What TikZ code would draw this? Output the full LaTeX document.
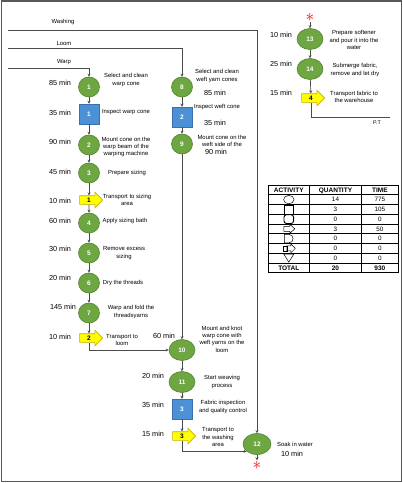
\documentclass[tikz,border=0pt]{standalone}
\usepackage{fontspec}
\setmainfont{Liberation Sans}
\usetikzlibrary{arrows.meta,shapes.geometric,shapes.arrows}
\definecolor{opgreen}{RGB}{110,166,66}
\definecolor{opedge}{RGB}{82,130,50}
\definecolor{inblue}{RGB}{76,145,214}
\definecolor{inedge}{RGB}{58,112,172}
\definecolor{trfill}{RGB}{255,255,0}
\definecolor{tredge}{RGB}{200,170,0}
\definecolor{linegray}{RGB}{75,75,75}

\begin{document}
\begin{tikzpicture}[
    x=1pt, y=-1pt,
    oper/.style={ellipse, draw=opedge, fill=opgreen, line width=0.6pt, minimum width=21pt, minimum height=20pt, inner sep=0pt, text=white, font=\fontsize{6.5}{7}\selectfont\bfseries},
    bigoper/.style={oper, minimum width=26pt, minimum height=21pt},
    insp/.style={rectangle, draw=inedge, fill=inblue, line width=0.5pt, minimum width=20pt, minimum height=20pt, inner sep=0pt, text=white, font=\fontsize{6.5}{7}\selectfont\bfseries},
    transp/.style={single arrow, draw=tredge, fill=trfill, line width=0.6pt, minimum height=23pt, single arrow head extend=3.5pt, inner sep=1pt, text height=5pt, text depth=1pt, font=\fontsize{6.5}{7}\selectfont\bfseries},
    desc/.style={align=center, inner sep=0pt, font=\fontsize{5.9}{7.3}\selectfont},
    time/.style={inner sep=0pt, font=\fontsize{7.3}{8}\selectfont},
    cell/.style={inner sep=0pt, text height=4.6pt, text depth=0pt, font=\fontsize{6.3}{7}\selectfont},
    head/.style={cell, font=\fontsize{6.5}{7}\selectfont\bfseries},
    sym/.style={draw, line width=0.5pt},
    flow/.style={draw=linegray, line width=0.7pt, -{Stealth[length=3pt,width=3pt]}},
    plain/.style={draw=linegray, line width=0.7pt},
    redstar/.style={inner sep=0.5pt, text=red, font=\fontsize{16}{16}\selectfont},
]
    \useasboundingbox (0,0) rectangle (403,483);
    \draw[black!65, line width=1.5pt] (1.5,0.8) rectangle (401.5,481.5);

    \coordinate (ws) at (8,30);
    \coordinate (lm) at (8,48);
    \coordinate (wp) at (8,68);
    \coordinate (pe) at (390,117);
    \node[desc] (lws) at (63,22) {Washing};
    \node[desc] (llm) at (64,43) {Loom};
    \node[desc] (lwp) at (64,62) {Warp};

    \node[oper] (o1) at (89,87) {1};
    \node[insp] (q1) at (89,114) {1};
    \node[oper] (o2) at (89,145) {2};
    \node[oper] (o3) at (89,173) {3};
    \node[transp] (a1) at (89,200) {1};
    \node[oper] (o4) at (89,223) {4};
    \node[oper] (o5) at (89,253) {5};
    \node[oper] (o6) at (89,283) {6};
    \node[oper] (o7) at (89,313) {7};
    \node[transp] (a2) at (89,338) {2};

    \node[oper] (o8) at (182,87) {8};
    \node[insp] (q2) at (182,117) {2};
    \node[oper] (o9) at (182,144) {9};
    \node[bigoper] (o10) at (182,350) {10};
    \node[bigoper] (o11) at (182,382) {11};
    \node[insp] (q3) at (182,409) {3};
    \node[transp] (a3) at (182,436) {3};
    \node[bigoper, minimum width=28pt] (o12) at (257,444) {12};

    \node[bigoper] (o13) at (310,39) {13};
    \node[bigoper] (o14) at (310,69) {14};
    \node[transp] (a4) at (311,98) {4};

    \node[redstar] (s1) at (310,17) {$\ast$};
    \node[redstar] (s2) at (257,465) {$\ast$};

    \node[time] (t1) at (60,83) {85 min};
    \node[time] (tq1) at (60,113) {35 min};
    \node[time] (t2) at (60,142) {90 min};
    \node[time] (t3) at (60,172) {45 min};
    \node[time] (ta1) at (60,201) {10 min};
    \node[time] (t4) at (60,221) {60 min};
    \node[time] (t5) at (60,249) {30 min};
    \node[time] (t6) at (60,278) {20 min};
    \node[time] (t7) at (63,307) {145 min};
    \node[time] (ta2) at (60,337) {10 min};
    \node[time] (t8) at (215,93) {85 min};
    \node[time] (tq2) at (215,123) {35 min};
    \node[time] (t9) at (216,152) {90 min};
    \node[time] (t10) at (164,336) {60 min};
    \node[time] (t11) at (153,376) {20 min};
    \node[time] (tq3) at (153,405) {35 min};
    \node[time] (ta3) at (153,434) {15 min};
    \node[time] (t12) at (292,454) {10 min};
    \node[time] (t13) at (281,35) {10 min};
    \node[time] (t14) at (281,64) {25 min};
    \node[time] (ta4) at (281,93) {15 min};

    \node[desc] (d1) at (126,80) {Select and clean\\warp cone};
    \node[desc] (dq1) at (126,112) {Inspect warp cone};
    \node[desc] (d2) at (126,147) {Mount cone on the\\warp beam of the\\warping machine};
    \node[desc] (d3) at (127,173) {Prepare sizing};
    \node[desc] (da1) at (127,200) {Transport to sizing\\area};
    \node[desc] (d4) at (125,221) {Apply sizing bath};
    \node[desc] (d5) at (124,253) {Remove excess\\sizing};
    \node[desc] (d6) at (123,283) {Dry the threads};
    \node[desc] (d7) at (131,312) {Warp and fold the\\threadsyarns};
    \node[desc] (da2) at (122,340) {Transport to\\loom};
    \node[desc] (d8) at (217,76) {Select and clean\\weft yarn cones};
    \node[desc] (dq2) at (217,107) {Inspect weft cone};
    \node[desc] (d9) at (222,141) {Mount cone on the\\weft side of the};
    \node[desc] (d10) at (222,339) {Mount and knot\\warp cone with\\weft yarns on the\\loom};
    \node[desc] (d11) at (222,382) {Start weaving\\process};
    \node[desc] (dq3) at (223,407) {Fabric inspection\\and quality control};
    \node[desc] (da3) at (218,437) {Transport to\\the washing\\area};
    \node[desc] (d12) at (295,444) {Soak in water};
    \node[desc] (d13) at (354,40) {Prepare softener\\and pour it into the\\water};
    \node[desc] (d14) at (355,70) {Submerge fabric,\\remove and let dry};
    \node[desc] (da4) at (354,97) {Transport fabric to\\the warehouse};
    \node[desc, font=\fontsize{5.3}{6}\selectfont] (pt) at (377,123) {P.T};

    \draw[flow] (wp) -| (o1);
    \draw[flow] (lm) -| (o8);
    \draw[flow] (ws) -| (o12);
    \foreach \u/\v in {o1/q1,q1/o2,o2/o3,o3/a1,a1/o4,o4/o5,o5/o6,o6/o7,o7/a2,
                       o8/q2,q2/o9,o9/o10,o10/o11,o11/q3,q3/a3,
                       s1/o13,o13/o14,o14/a4,o12/s2}
        \draw[flow] (\u) -- (\v);
    \draw[flow] (a2) |- (o10);
    \draw[flow] (a3) |- (o12.215);
    \draw[plain] (a4) |- (pe);

    \foreach \r in {0,...,9}
        \draw[line width=0.6pt] (268.3,{185+9.74*\r}) -- (398,{185+9.74*\r});
    \foreach \c in {268.3,309.3,361.7,398}
        \draw[line width=0.6pt] (\c,185) -- (\c,272.7);
    \node[head] (hact) at (288.8,189.9) {ACTIVITY};
    \node[head] (hqty) at (335.5,189.9) {QUANTITY};
    \node[head] (htim) at (379.9,189.9) {TIME};
    \foreach \q/\t [count=\i] in {14/775,3/105,0/0,3/50,0/0,0/0,0/0} {
        \node[cell] (qty\i) at (335.5,{185+9.74*\i+4.87}) {\q};
        \node[cell] (tim\i) at (379.9,{185+9.74*\i+4.87}) {\t};
    }
    \node[head] (htot) at (288.8,267.8) {TOTAL};
    \node[head] (qtot) at (335.5,267.8) {20};
    \node[head] (ttot) at (379.9,267.8) {930};

    \draw[sym] (288.8,199.6) ellipse [x radius=5.2pt, y radius=4.2pt];
    \draw[sym] (284,205) rectangle (293.6,213.8);
    \draw[sym, line width=0.9pt, rounded corners=2.5pt] (284,214.7) rectangle (293.6,223.5);
    \draw[sym, shift={(288.8,228.8)}] (-5,-2.5) -- (1,-2.5) -- (1,-4.5) -- (6,0) -- (1,4.5) -- (1,2.5) -- (-5,2.5) -- cycle;
    \draw[sym] (284.3,234.3) -- (288.8,234.3) .. controls (294.5,234.3) and (294.5,242.9) .. (288.8,242.9) -- (284.3,242.9) -- cycle;
    \draw[sym, shift={(288.8,248.3)}] (-6,-2.5) rectangle (-2,2.5);
    \draw[sym, shift={(288.8,248.3)}] (-2,-2.5) -- (2,-2.5) -- (2,-4.5) -- (6.5,0) -- (2,4.5) -- (2,2.5) -- (-2,2.5) -- cycle;
    \draw[sym, shift={(288.8,258.1)}] (-5,-4) -- (5,-4) -- (0,4) -- cycle;
\end{tikzpicture}
\end{document}
